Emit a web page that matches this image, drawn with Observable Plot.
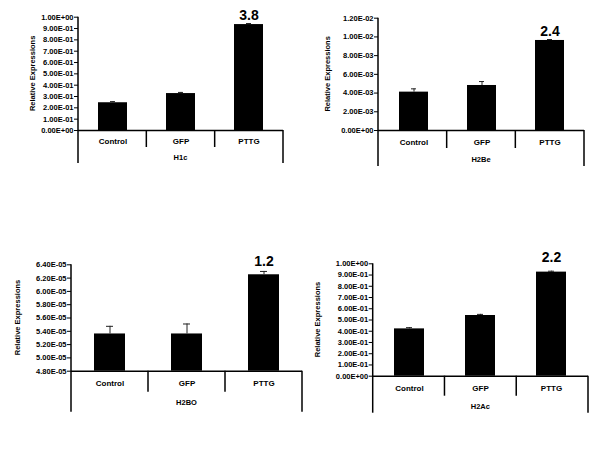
<!DOCTYPE html>
<html><head><meta charset="utf-8">
<script src="https://cdn.jsdelivr.net/npm/d3@7"></script>
<script src="https://cdn.jsdelivr.net/npm/@observablehq/plot@0.6"></script>
<style>
body{margin:0;background:#fff;}
#wrap{position:relative;width:600px;height:450px;overflow:hidden;background:#fff;font-family:"Liberation Sans",Arial,sans-serif;}
</style></head><body><div id="wrap"></div>
<script>
// ---- data ----
const categories = ["Control", "GFP", "PTTG"];
const genes = ["H1c", "H2Be", "H2BO", "H2Ac"];
const yAxisTitle = "Relative Expressions";
const foldChanges = ["3.8", "2.4", "1.2", "2.2"];

const h1cValues = [0.245, 0.326, 0.935];
const h1cErrors = [0.010, 0.010, 0.009];
const h2beValues = [0.00410, 0.00481, 0.00962];
const h2beErrors = [0.00035, 0.00042, 0.00010];
const h2boValues = [5.36e-5, 5.36e-5, 6.25e-5];
const h2boErrors = [0.115e-5, 0.150e-5, 0.050e-5];
const h2acValues = [0.421, 0.540, 0.926];
const h2acErrors = [0.011, 0.010, 0.008];

const h1cTicks = [0, 0.1, 0.2, 0.3, 0.4, 0.5, 0.6, 0.7, 0.8, 0.9, 1.0];
const h1cTickLabels = ["0.00E+00","1.00E-01","2.00E-01","3.00E-01","4.00E-01","5.00E-01","6.00E-01","7.00E-01","8.00E-01","9.00E-01","1.00E+00"];
const h2beTicks = [0, 0.002, 0.004, 0.006, 0.008, 0.010, 0.012];
const h2beTickLabels = ["0.00E+00","2.00E-03","4.00E-03","6.00E-03","8.00E-03","1.00E-02","1.20E-02"];
const h2boTicks = [4.8e-5, 5.0e-5, 5.2e-5, 5.4e-5, 5.6e-5, 5.8e-5, 6.0e-5, 6.2e-5, 6.4e-5];
const h2boTickLabels = ["4.80E-05","5.00E-05","5.20E-05","5.40E-05","5.60E-05","5.80E-05","6.00E-05","6.20E-05","6.40E-05"];
const h2acTicks = h1cTicks;
const h2acTickLabels = h1cTickLabels;

// ---- layout (positions/sizes only) ----
const layouts = [
  {left:0,   top:0,   width:300, height:200, mL:78,   mR:17, mT:16.7, mB:70,   inner:17, outer:33, catPad:8, geneDy:28, ylabX:33,   pIn:0.58, pOut:0.29, foldDy:-4},
  {left:300, top:0,   width:300, height:200, mL:78,   mR:16, mT:17.7, mB:70,   inner:18, outer:36, catPad:9, geneDy:30, ylabX:28,   pIn:0.58, pOut:0.29, foldDy:-4},
  {left:0,   top:220, width:302, height:220, mL:71,   mR:0,  mT:44.3, mB:69.3, inner:21, outer:41, catPad:9, geneDy:32, ylabX:18.3, pIn:0.6,  pOut:0.3,  foldDy:-5},
  {left:300, top:220, width:300, height:220, mL:72.7, mR:12, mT:43.3, mB:64.3, inner:20, outer:37, catPad:9, geneDy:31, ylabX:18.3, pIn:0.58, pOut:0.29, foldDy:-9}
];

const series = [
  {values:h1cValues,  errors:h1cErrors,  ticks:h1cTicks,  labels:h1cTickLabels},
  {values:h2beValues, errors:h2beErrors, ticks:h2beTicks, labels:h2beTickLabels},
  {values:h2boValues, errors:h2boErrors, ticks:h2boTicks, labels:h2boTickLabels},
  {values:h2acValues, errors:h2acErrors, ticks:h2acTicks, labels:h2acTickLabels}
];

const font = "Liberation Sans, Arial, Helvetica, sans-serif";
const wrap = document.getElementById("wrap");

genes.forEach((gene, k) => {
  const L = layouts[k], S = series[k];
  const yMin = S.ticks[0], yMax = S.ticks[S.ticks.length - 1];
  const rows = categories.map((c, i) => ({category: c, value: S.values[i], top: S.values[i] + S.errors[i]}));
  const fig = Plot.plot({
    width: L.width, height: L.height,
    marginLeft: L.mL, marginRight: L.mR, marginTop: L.mT, marginBottom: L.mB,
    style: {fontFamily: font, fontWeight: "bold", color: "#000", background: "transparent", overflow: "visible"},
    x: {domain: categories, paddingInner: L.pIn, paddingOuter: L.pOut, axis: null},
    y: {domain: [yMin, yMax], axis: null},
    marks: [
      Plot.barY(rows, {x: "category", y1: yMin, y2: "value", fill: "#000"}),
      Plot.ruleX(rows, {x: "category", y1: "value", y2: "top", stroke: "#222", strokeWidth: 1}),
      Plot.tickY(rows, {x: "category", y: "top", stroke: "#222", strokeWidth: 1, insetLeft: 12, insetRight: 12}),
      Plot.ruleY([yMin], {stroke: "#000", strokeWidth: 1.5}),
      Plot.text([rows[2]], {x: "category", y: "top", text: () => foldChanges[k], dy: L.foldDy, lineAnchor: "bottom", fontSize: 14, fontWeight: "bold", fill: "#000"}),
      Plot.axisY({ticks: S.ticks, tickFormat: d => S.labels[S.ticks.indexOf(d)], tickSize: 4, tickPadding: 1, fontSize: 7.5, fontWeight: "bold", label: null}),
      Plot.axisX({tickSize: 0, tickPadding: L.catPad, fontSize: 8, fontWeight: "bold", label: null})
    ]
  });
  fig.style.position = "absolute";
  fig.style.left = L.left + "px";
  fig.style.top = L.top + "px";
  wrap.appendChild(fig);

  // decorations: axis lines, category dividers, axis titles
  const xs = fig.scale("x"), ys = fig.scale("y");
  const y0 = ys.apply(yMin), yTop = ys.apply(yMax);
  const x0 = L.mL, x1 = L.width - L.mR;
  const step = (x1 - x0) / categories.length;
  const svg = d3.select(fig);
  const g = svg.append("g").attr("stroke", "#000").attr("stroke-width", 1.5);
  g.append("line").attr("x1", x0).attr("x2", x0).attr("y1", yTop).attr("y2", y0 + L.outer);
  g.append("line").attr("x1", x1).attr("x2", x1).attr("y1", y0).attr("y2", y0 + L.outer);
  for (let i = 1; i < categories.length; i++) {
    const xi = x0 + step * i;
    g.append("line").attr("x1", xi).attr("x2", xi).attr("y1", y0).attr("y2", y0 + L.inner);
  }
  svg.append("text").text(gene)
    .attr("x", (x0 + x1) / 2).attr("y", y0 + L.geneDy)
    .attr("text-anchor", "middle").attr("dominant-baseline", "middle")
    .attr("font-size", 7.5).attr("font-weight", "bold").attr("font-family", font).attr("fill", "#000");
  svg.append("text").text(yAxisTitle)
    .attr("transform", `translate(${L.ylabX},${(yTop + y0) / 2}) rotate(-90)`)
    .attr("text-anchor", "middle").attr("dominant-baseline", "middle")
    .attr("font-size", 7.5).attr("font-weight", "bold").attr("font-family", font).attr("fill", "#000");
});
</script></body></html>
